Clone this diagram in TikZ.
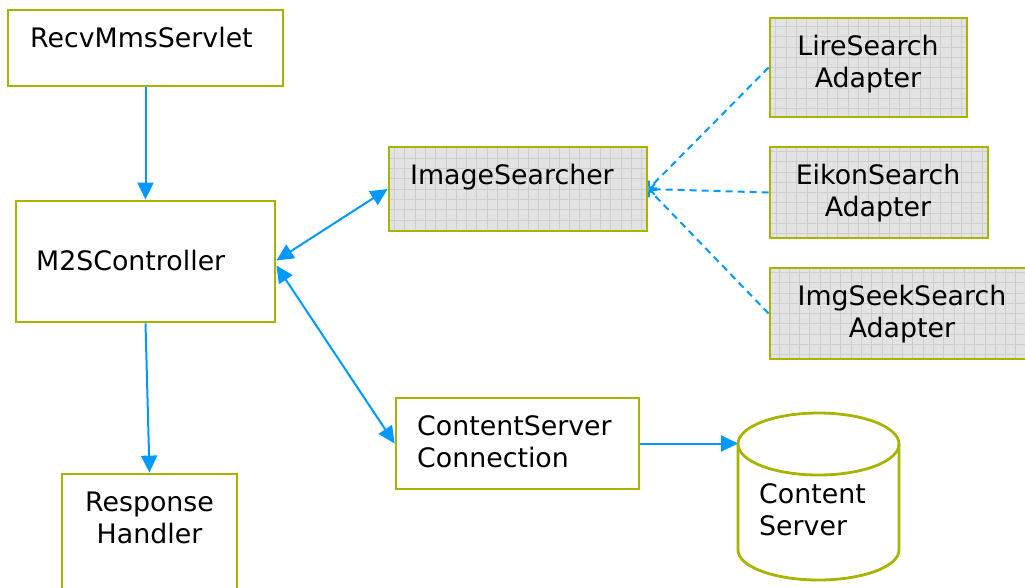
\documentclass[tikz,border=0pt]{standalone}
\usepackage{fontspec}
\setmainfont{DejaVu Sans}
\usetikzlibrary{arrows.meta,calc}
\definecolor{boxline}{RGB}{168,180,0}
\definecolor{linkblue}{RGB}{0,153,255}
\definecolor{gridfill}{RGB}{227,227,227}
\definecolor{gridline}{RGB}{206,206,206}

\begin{document}
\begin{tikzpicture}[x=1pt, y=-1pt,
    every node/.style={font=\fontsize{26.8}{31.5}\selectfont},
    box/.style={draw=boxline, line width=2.8pt, inner sep=0pt},
    gridbox/.style={box, fill=gridfill, path picture={
        \draw[gridline, line width=0.8pt, step=10.3pt]
        (path picture bounding box.north west) grid (path picture bounding box.south east);}},
    txt/.style={inner sep=0pt, anchor=base west, align=left},
    ctxt/.style={inner sep=0pt, anchor=base, align=center},
    link/.style={draw=linkblue, line width=2pt, -{Triangle[length=17pt,width=16pt]}},
    both/.style={link, {Triangle[length=17pt,width=16pt]}-{Triangle[length=17pt,width=16pt]}},
    plug/.style={draw=linkblue, line width=2pt, dash pattern=on 7pt off 5pt,
        -{Straight Barb[length=5pt,width=11pt]}}]
      \useasboundingbox (0,0) rectangle (1025,587);

      % servlet, controller and response handler
      % (two-line texts are placed at the baseline of their last line)
      \node at (145.5,48) [box, minimum width=275pt, minimum height=76pt, name=recv] {};
      \node at (30,47) [txt, name=recvtxt] {RecvMmsServlet};

      \node at (145.5,261.5) [box, minimum width=259pt, minimum height=121pt, name=ctrl] {};
      \node at (36,270) [txt, name=ctrltxt] {M2SController};

      \node at (149.5,547) [box, minimum width=175pt, minimum height=146pt, name=resp] {};
      \node at (149.5,543) [ctxt, name=resptxt] {Response\\Handler};

      % searcher and its adapters
      \node at (518,189) [gridbox, minimum width=258pt, minimum height=84pt, name=isearch] {};
      \node at (410,184) [txt, name=isearchtxt] {ImageSearcher};

      \node at (868.5,67.5) [gridbox, minimum width=197pt, minimum height=99pt, name=lire] {};
      \node at (868,87) [ctxt, name=liretxt] {LireSearch\\Adapter};

      \node at (879,192.5) [gridbox, minimum width=218pt, minimum height=91pt, name=eikon] {};
      \node at (878,216) [ctxt, name=eikontxt] {EikonSearch\\Adapter};

      \node at (902.5,313.5) [gridbox, minimum width=265pt, minimum height=91pt, name=imgseek] {};
      \node at (902,337) [ctxt, name=imgseektxt] {ImgSeekSearch\\Adapter};

      % content server side
      \node at (517.5,443.5) [box, minimum width=243pt, minimum height=91pt, name=csconn] {};
      \node at (417,467) [txt, name=csconntxt] {ContentServer\\Connection};

      \draw [boxline, line width=2.8pt] (818.5,444) ellipse [x radius=80.5pt, y radius=31pt];
      \draw [boxline, line width=2.8pt] (738,444) -- (738,550)
        arc [start angle=180, end angle=360, x radius=80.5pt, y radius=30pt] -- (899,444);
      \coordinate (dbin) at (738,443.5);
      \node at (759,535) [txt, name=dbtxt] {Content\\Server};

      % connectors
      \draw [link] (recv) -- (ctrl);
      \draw [link] (ctrl.south) -- (resp.north);
      \draw [both] ([yshift=1pt]ctrl.east) -- (isearch.west);
      \draw [both] ([yshift=-4pt]ctrl.east) -- (csconn.west);
      \draw [link] (csconn.east) -- (dbin);

      \draw [plug] (lire.west) -- (isearch.east);
      \draw [plug] (eikon.west) -- (isearch.east);
      \draw [plug] (imgseek.west) -- (isearch.east);
\end{tikzpicture}
\end{document}
